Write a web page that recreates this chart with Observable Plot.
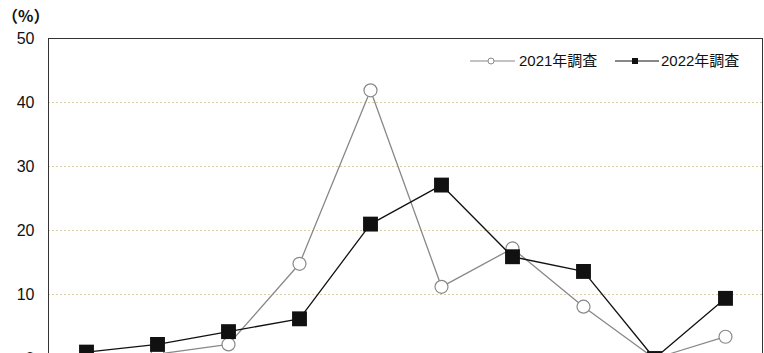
<!DOCTYPE html>
<html><head><meta charset="utf-8">
<script src="https://cdn.jsdelivr.net/npm/d3@7"></script>
<script src="https://cdn.jsdelivr.net/npm/@observablehq/plot@0.6"></script>
<style>
html,body{margin:0;padding:0;background:#fff;overflow:hidden;}
#chart{position:relative;width:764px;}
</style></head>
<body><div id="chart"></div>
<script>
const categories = ["1","2","3","4","5","6","7","8","9","10"];
const series2021 = [0.6, 0.7, 2.2, 14.8, 41.9, 11.2, 17.2, 8.1, 0, 3.4];
const series2022 = [1.0, 2.2, 4.2, 6.2, 21.0, 27.1, 15.9, 13.6, 0, 9.4];
const yTicks = [0, 10, 20, 30, 40, 50];
const seriesNames = ["2021年調査", "2022年調査"];

const d21 = categories.map((c, i) => ({cat: c, v: series2021[i]}));
const d22 = categories.map((c, i) => ({cat: c, v: series2022[i]}));
const font = "'Liberation Sans', 'Noto Sans CJK JP', sans-serif";

const plot = Plot.plot({
  width: 764, height: 400,
  marginLeft: 48, marginRight: 2, marginTop: 38, marginBottom: 42,
  style: {fontFamily: font, background: "#fff"},
  x: {type: "point", domain: categories, padding: 0.5, axis: null},
  y: {domain: [0, 50], axis: null},
  marks: [
    Plot.axisY(yTicks, {tickSize: 0, tickPadding: 14, fontSize: 16, fill: "#111", label: null}),
    Plot.gridY([10, 20, 30, 40], {stroke: "#d6cfa3", strokeOpacity: 1, strokeDasharray: "2,2"}),
    Plot.frame({stroke: "#333", strokeWidth: 1}),
    Plot.line(d21, {x: "cat", y: "v", stroke: "#888", strokeWidth: 1.3}),
    Plot.dot(d21, {x: "cat", y: "v", r: 6.5, fill: "#fff", stroke: "#888", strokeWidth: 1.2}),
    Plot.line(d22, {x: "cat", y: "v", stroke: "#111", strokeWidth: 1.3}),
    Plot.dot(d22, {x: "cat", y: "v", symbol: "square", r: 8.4, fill: "#111", stroke: "none"})
  ]
});
document.getElementById("chart").appendChild(plot);

const svg = d3.select(plot);
svg.append("text").attr("x", 2).attr("y", 22).attr("text-anchor", "start").attr("font-size", 16).attr("font-weight", "bold")
  .attr("font-family", "'Noto Sans CJK JP', sans-serif").attr("fill", "#111").text("（%）");
const lg = svg.append("g").attr("font-family", font).attr("font-size", 15).attr("fill", "#111").attr("text-anchor", "start");
// legend item 1
lg.append("line").attr("x1", 470).attr("x2", 515).attr("y1", 61).attr("y2", 61).attr("stroke", "#888").attr("stroke-width", 1.2);
lg.append("circle").attr("cx", 491).attr("cy", 61).attr("r", 3).attr("fill", "#fff").attr("stroke", "#888");
lg.append("text").attr("x", 519).attr("y", 66).text(seriesNames[0]);
// legend item 2
lg.append("line").attr("x1", 615).attr("x2", 659).attr("y1", 61).attr("y2", 61).attr("stroke", "#111").attr("stroke-width", 1.2);
lg.append("rect").attr("x", 632).attr("y", 58).attr("width", 6).attr("height", 6).attr("fill", "#111");
lg.append("text").attr("x", 661).attr("y", 66).text(seriesNames[1]);
</script></body></html>
